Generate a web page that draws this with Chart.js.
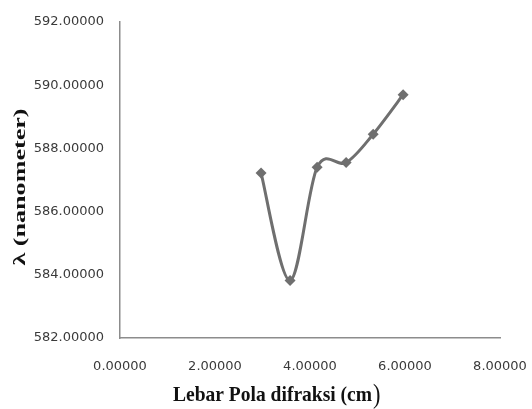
<!DOCTYPE html>
<html>
<head>
<meta charset="utf-8">
<script src="https://cdn.jsdelivr.net/npm/chart.js@4"></script>
<style>
html,body{margin:0;padding:0;background:#fff;}
#wrap{width:532px;height:409px;position:relative;}
</style>
</head>
<body>
<div id="wrap"><canvas id="c" width="532" height="409"></canvas></div>
<script>
const widths = [2.97, 3.58, 4.15, 4.76, 5.33, 5.96];
const lambdas = [587.22, 583.82, 587.40, 587.55, 588.45, 589.70];
const xTicks = [0, 2, 4, 6, 8];
const yTicks = [582, 584, 586, 588, 590, 592];
const xTitle = "Lebar Pola difraksi (cm";
const xTitleClose = ")";
const yTitle = "λ (nanometer)";

const points = widths.map((w, i) => ({x: w, y: lambdas[i]}));

// Excel-like smoothing: uniform Catmull-Rom control points
const smoothPlugin = {
  id: 'excelSmooth',
  beforeDatasetsDraw(chart) {
    chart.getSortedVisibleDatasetMetas().forEach(meta => {
      const line = meta.dataset;
      line.updateControlPoints(chart.chartArea, 'x');
      const pts = meta.data;
      const k = 1 / 6;
      for (let i = 0; i < pts.length; i++) {
        const p = pts[i];
        const prev = pts[i - 1] || p;
        const next = pts[i + 1] || p;
        const dx = (next.x - prev.x) * k;
        const dy = (next.y - prev.y) * k;
        p.cp1x = p.x - dx; p.cp1y = p.y - dy;
        p.cp2x = p.x + dx; p.cp2y = p.y + dy;
      }
    });
  }
};

const titlePlugin = {
  id: 'titles',
  afterDraw(chart) {
    const ctx = chart.ctx;
    ctx.save();
    ctx.fillStyle = '#111';
    ctx.font = 'bold 22px "Liberation Serif"';
    ctx.textBaseline = 'alphabetic';
    ctx.textAlign = 'left';
    const w = ctx.measureText(xTitle).width;
    const sx = 199 / w;
    ctx.save();
    ctx.translate(173, 401);
    ctx.scale(sx, 1);
    ctx.fillText(xTitle, 0, 0);
    ctx.restore();
    ctx.font = '28px "Liberation Serif"';
    ctx.save();
    ctx.translate(373, 403);
    ctx.scale(0.8, 1);
    ctx.fillText(xTitleClose, 0, 0);
    ctx.restore();
    ctx.font = 'bold 16px "Liberation Serif"';
    const wy = ctx.measureText(yTitle).width;
    const sy = 157 / wy;
    ctx.save();
    ctx.translate(25, 187);
    ctx.rotate(-Math.PI / 2);
    ctx.scale(sy, 1);
    ctx.textAlign = 'center';
    ctx.textBaseline = 'alphabetic';
    ctx.fillText(yTitle, 0, 0);
    ctx.restore();
    ctx.restore();
  }
};

new Chart(document.getElementById('c'), {
  type: 'line',
  data: {
    datasets: [{
      data: points,
      borderColor: '#6f6f6f',
      backgroundColor: '#6f6f6f',
      borderWidth: 3,
      tension: 0.3,
      pointStyle: 'rectRot',
      pointRadius: 5.5,
      pointHoverRadius: 5.5,
      pointBorderWidth: 0,
      fill: false
    }]
  },
  options: {
    responsive: false,
    animation: false,
    events: [],
    layout: {padding: {top: 22, right: 32, left: 0, bottom: 0}},
    plugins: {legend: {display: false}, tooltip: {enabled: false}},
    scales: {
      x: {
        type: 'linear',
        min: 0, max: 8,
        afterBuildTicks(s) { s.ticks = xTicks.map(v => ({value: v})); },
        afterFit(s) { s.height = 409 - 338; s.paddingLeft = 0; s.paddingRight = 0; },
        grid: {display: false, drawTicks: false},
        border: {display: true, color: '#8c8c8c', width: 1.5},
        ticks: {
          padding: 21,
          color: '#3a3a3a',
          font: {family: '"DejaVu Sans"', size: 13},
          maxRotation: 0,
          callback: v => Number(v).toFixed(5)
        }
      },
      y: {
        type: 'linear',
        min: 582, max: 592,
        afterBuildTicks(s) { s.ticks = yTicks.map(v => ({value: v})); },
        afterFit(s) { s.width = 120; s.paddingTop = 0; s.paddingBottom = 0; },
        grid: {display: false, drawTicks: false},
        border: {display: true, color: '#8c8c8c', width: 1.5},
        ticks: {
          padding: 16,
          color: '#3a3a3a',
          font: {family: '"DejaVu Sans"', size: 13},
          callback: v => Number(v).toFixed(5)
        }
      }
    }
  },
  plugins: [smoothPlugin, titlePlugin]
});
</script>
</body>
</html>
